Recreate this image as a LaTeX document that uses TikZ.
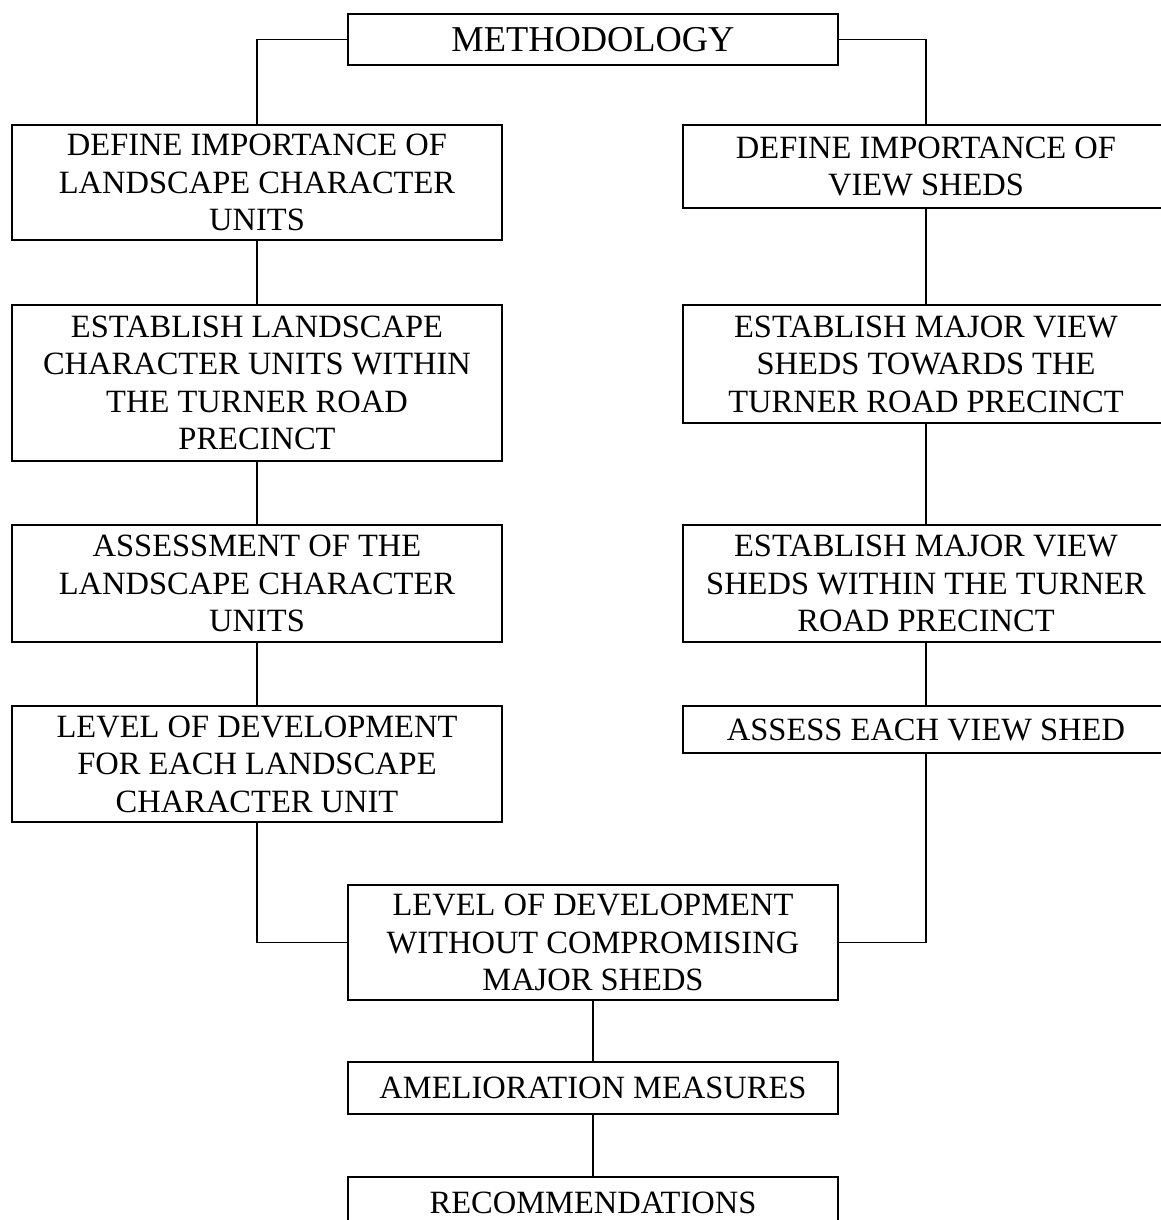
\documentclass[tikz,border=0pt]{standalone}
\usepackage{fontspec}
\setmainfont{Liberation Serif}
\usepackage{tikz}

\begin{document}
\begin{tikzpicture}[x = 0.5pt, y = -0.5pt,
  box/.style = {draw, line width = 0.7pt, inner sep = 0pt, align = center,
    minimum width = 245pt, font = \fontsize{16.25}{18.75}\selectfont},
  link/.style = {line width = 0.7pt}]
\useasboundingbox (0, 0) rectangle (1161, 1220);
\node (meth) at (593, 39.5) [box, minimum height = 25.5pt,
  font = \fontsize{18.2}{20}\selectfont] {METHODOLOGY};
% landscape side
\node (lcu1) at (257, 182.5) [box, minimum height = 57.5pt]
  {DEFINE IMPORTANCE OF\\LANDSCAPE CHARACTER\\UNITS};
\node (lcu2) at (257, 383) [box, minimum height = 78pt]
  {ESTABLISH LANDSCAPE\\CHARACTER UNITS WITHIN\\THE TURNER ROAD\\PRECINCT};
\node (lcu3) at (257, 583.5) [box, minimum height = 58.5pt]
  {ASSESSMENT OF THE\\LANDSCAPE CHARACTER\\UNITS};
\node (lcu4) at (257, 764) [box, minimum height = 58pt]
  {LEVEL OF DEVELOPMENT\\FOR EACH LANDSCAPE\\CHARACTER UNIT};
% view shed side
\node (vs1) at (926, 166.5) [box, minimum width = 243pt, minimum height = 41.5pt]
  {DEFINE IMPORTANCE OF\\VIEW SHEDS};
\node (vs2) at (926, 364) [box, minimum width = 243pt, minimum height = 59pt]
  {ESTABLISH MAJOR VIEW\\SHEDS TOWARDS THE\\TURNER ROAD PRECINCT};
\node (vs3) at (926, 583.5) [box, minimum width = 243pt, minimum height = 58.5pt]
  {ESTABLISH MAJOR VIEW\\SHEDS WITHIN THE TURNER\\ROAD PRECINCT};
\node (vs4) at (926, 729.5) [box, minimum width = 243pt, minimum height = 23.5pt]
  {ASSESS EACH VIEW SHED};
% joined part
\node (dev) at (593, 942.5) [box, minimum height = 57.5pt]
  {LEVEL OF DEVELOPMENT\\WITHOUT COMPROMISING\\MAJOR SHEDS};
\node (amel) at (593, 1088) [box, minimum height = 26pt] {AMELIORATION MEASURES};
\node (rec) at (593, 1203) [box, minimum height = 26pt] {RECOMMENDATIONS};
\draw [link] (meth.west) -| (lcu1.north);
\draw [link] (meth.east) -| (vs1.north);
\draw [link] (lcu1) -- (lcu2) -- (lcu3) -- (lcu4);
\draw [link] (vs1) -- (vs2) -- (vs3) -- (vs4);
\draw [link] (lcu4.south) |- (dev.west);
\draw [link] (vs4.south) |- (dev.east);
\draw [link] (dev) -- (amel) -- (rec);
\end{tikzpicture}
\end{document}
